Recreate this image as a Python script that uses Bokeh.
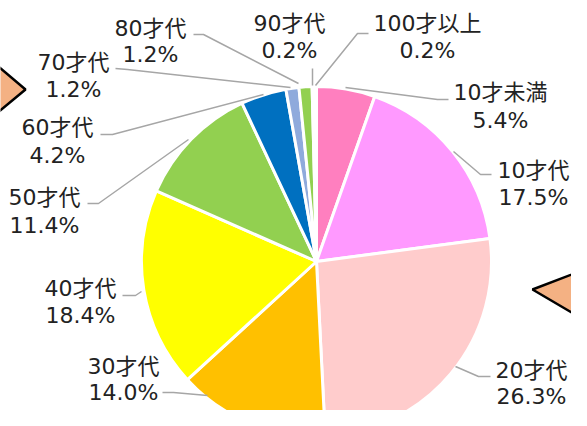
import math
from bokeh.plotting import figure
from bokeh.models import Range1d, ColumnDataSource
from bokeh.core.properties import value
from bokeh.embed import file_html
from bokeh.resources import INLINE

# ---- data ----
categories = ["10才未満", "10才代", "20才代", "30才代", "40才代", "50才代",
              "60才代", "70才代", "80才代", "90才代", "100才以上"]
values = [5.4, 17.5, 26.3, 14.0, 18.4, 11.4, 4.2, 1.2, 1.2, 0.2, 0.2]
pct_labels = ["5.4%", "17.5%", "26.3%", "14.0%", "18.4%", "11.4%",
              "4.2%", "1.2%", "1.2%", "0.2%", "0.2%"]
colors = ["#FF7FBF", "#FF99FF", "#FFCCCC", "#FFC000", "#FFFF00", "#92D050",
          "#0070C0", "#8FAADC", "#92D050", "#FFFFFF", "#FFFFFF"]

# ---- layout (picture pixel coordinates) ----
W, H = 571, 410
CX, CY, R = 316, 261, 175
label_pos = [(500, 92, 120), (533, 170, 197), (531, 370, 396), (123, 366, 392),
             (80, 288, 315), (44, 197, 225), (57, 127, 155), (73, 62, 89),
             (150, 28, 54), (289, 23, 50), (427, 23, 50)]
leaders = [
    [(345, 87), (437, 99), (448, 99)],
    [(453, 151), (480, 174), (491, 174)],
    [(455, 366), (478, 376), (490, 376)],
    [(162, 392), (173, 392), (207, 395)],
    [(122, 295), (135, 295), (141, 291)],
    [(87, 203), (98, 203), (188, 139)],
    [(100, 134), (112, 134), (263, 94)],
    [(115, 68), (127, 69), (290, 87)],
    [(193, 34), (203, 34), (298, 83)],
    [(312, 68), (312, 85)],
    [(368, 33), (357, 33), (315, 85)],
]

p = figure(width=W, height=H, x_range=Range1d(0, W), y_range=Range1d(-H, 0),
           toolbar_location=None, output_backend="svg", min_border=0,
           x_axis_type=None, y_axis_type=None)
p.grid.visible = False
p.outline_line_color = None
p.background_fill_color = "white"
p.border_fill_color = "white"

# decorative triangles
p.patches(xs=[[-15, 25, -15], [532, 600, 600]],
          ys=[[-55, -89, -122], [-289, -263, -329]],
          fill_color="#F4B183", line_color="black", line_width=2.5)

# pie
total = sum(values)
cum = [0.0]
for v in values:
    cum.append(cum[-1] + v / total)
starts = [math.pi / 2 - 2 * math.pi * c for c in cum[1:]]
ends = [math.pi / 2 - 2 * math.pi * c for c in cum[:-1]]
src = ColumnDataSource(dict(start=starts, end=ends, color=colors, cat=categories, val=values))
p.wedge(x=CX, y=-CY, radius=R, start_angle="start", end_angle="end", source=src,
        fill_color="color", line_color="white", line_width=3)

# leader lines
p.multi_line(xs=[[pt[0] for pt in l] for l in leaders],
             ys=[[-pt[1] for pt in l] for l in leaders],
             line_color="#A6A6A6", line_width=1.5)

font = value("'DejaVu Sans', 'Noto Sans CJK JP'")
p.text(x=[lp[0] for lp in label_pos], y=[-lp[1] for lp in label_pos], text=categories,
       text_font=font, text_font_size="22px", text_color="#222222",
       text_align="center", text_baseline="middle")
p.text(x=[lp[0] for lp in label_pos], y=[-lp[2] for lp in label_pos], text=pct_labels,
       text_font=font, text_font_size="22px", text_color="#222222",
       text_align="center", text_baseline="middle")

open("out.html", "w").write(file_html(p, INLINE))
